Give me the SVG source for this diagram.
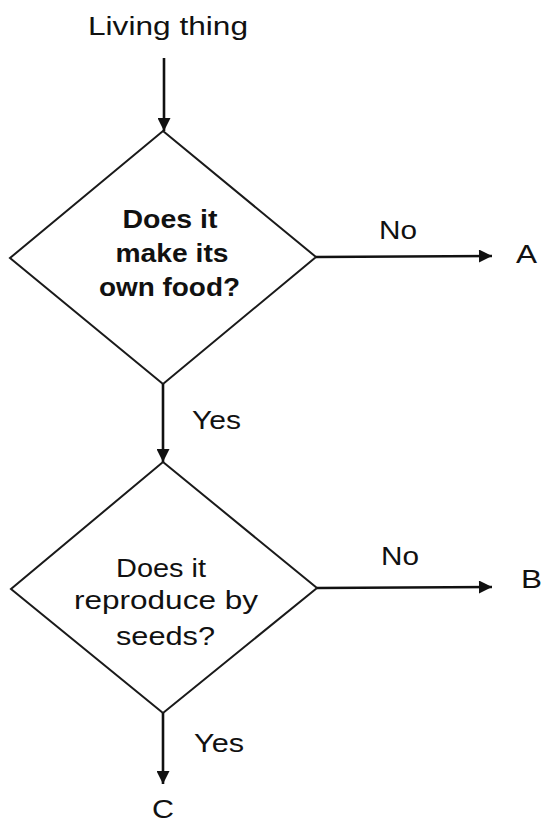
<svg xmlns="http://www.w3.org/2000/svg" width="543" height="826" viewBox="0 0 543 826">
<style>
.bg{fill:#ffffff}
.shape{fill:none;stroke:#1a1a1a;stroke-width:2;stroke-linejoin:miter}
.edge{fill:none;stroke:#111;stroke-width:2.6}
.lbl{font-family:"Liberation Sans",Arial,sans-serif;font-size:26px;fill:#111}
.q{font-family:"Liberation Sans",Arial,sans-serif;font-size:25px;fill:#111;text-anchor:middle}
.qb{font-weight:bold}
</style>
<defs>
<marker id="arr" viewBox="0 0 10 10" refX="10" refY="5" markerWidth="6.4" markerHeight="5" markerUnits="strokeWidth" orient="auto">
<path d="M0,0 L10,5 L0,10 Z" fill="#111"/>
</marker>
</defs>
<rect class="bg" x="0" y="0" width="543" height="826"/>
<g id="start">
<text class="lbl" x="88" y="35" textLength="160" lengthAdjust="spacingAndGlyphs">Living thing</text>
</g>
<g id="q1">
<polygon class="shape" points="163,131 316,257 163,384 10,258"/>
<text class="q qb" x="170" y="228" textLength="95" lengthAdjust="spacingAndGlyphs">Does it</text>
<text class="q qb" x="172" y="262" textLength="113" lengthAdjust="spacingAndGlyphs">make its</text>
<text class="q qb" x="169.5" y="296" textLength="141" lengthAdjust="spacingAndGlyphs">own food?</text>
</g>
<g id="A">
<text class="lbl" x="516" y="263" textLength="21" lengthAdjust="spacingAndGlyphs">A</text>
</g>
<g id="q2">
<polygon class="shape" points="163,462 317,588 163,713 11,589"/>
<text class="q" x="161" y="577" textLength="90" lengthAdjust="spacingAndGlyphs">Does it</text>
<text class="q" x="166" y="609" textLength="184" lengthAdjust="spacingAndGlyphs">reproduce by</text>
<text class="q" x="165.5" y="645" textLength="99" lengthAdjust="spacingAndGlyphs">seeds?</text>
</g>
<g id="B">
<text class="lbl" x="521" y="588" textLength="21" lengthAdjust="spacingAndGlyphs">B</text>
</g>
<g id="C">
<text class="lbl" x="152" y="818" font-size="24" textLength="22" lengthAdjust="spacingAndGlyphs">C</text>
</g>
<g id="connectors">
<line class="edge" x1="164" y1="58" x2="164" y2="131" marker-end="url(#arr)"/>
<line class="edge" x1="316" y1="257" x2="492" y2="256" marker-end="url(#arr)"/>
<text class="lbl" x="379" y="239" textLength="38" lengthAdjust="spacingAndGlyphs">No</text>
<line class="edge" x1="163" y1="384" x2="163" y2="462" marker-end="url(#arr)"/>
<text class="lbl" x="192" y="429" textLength="49" lengthAdjust="spacingAndGlyphs">Yes</text>
<line class="edge" x1="317" y1="588" x2="492" y2="587" marker-end="url(#arr)"/>
<text class="lbl" x="381" y="565" textLength="38" lengthAdjust="spacingAndGlyphs">No</text>
<line class="edge" x1="163" y1="713" x2="163" y2="784" marker-end="url(#arr)"/>
<text class="lbl" x="194" y="752" textLength="50" lengthAdjust="spacingAndGlyphs">Yes</text>
</g>
</svg>
